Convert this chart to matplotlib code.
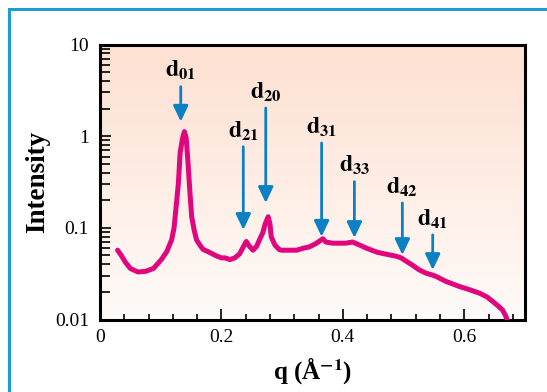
import numpy as np
import matplotlib
matplotlib.use("Agg")
import matplotlib.pyplot as plt
from matplotlib.colors import LinearSegmentedColormap
from matplotlib.patches import Rectangle

plt.rcParams['font.family'] = ['Liberation Serif', 'DejaVu Serif']
plt.rcParams['mathtext.fontset'] = 'stix'

# scattering curve
q = [0.029, 0.035, 0.042, 0.050, 0.0625, 0.075, 0.088, 0.101, 0.110, 0.118,
     0.122, 0.126, 0.129, 0.132, 0.136, 0.139, 0.142, 0.145, 0.148, 0.151,
     0.155, 0.159, 0.165, 0.170, 0.178, 0.190, 0.200, 0.206, 0.214, 0.222,
     0.230, 0.236, 0.241, 0.246, 0.252, 0.258, 0.263, 0.268, 0.272, 0.277,
     0.280, 0.282, 0.288, 0.295, 0.299, 0.310, 0.324, 0.335, 0.345, 0.355,
     0.362, 0.367, 0.372, 0.383, 0.395, 0.405, 0.416, 0.425, 0.439, 0.457,
     0.475, 0.488, 0.496, 0.505, 0.515, 0.525, 0.537, 0.548, 0.554, 0.570,
     0.592, 0.610, 0.625, 0.638, 0.647, 0.656, 0.663, 0.668, 0.671]
intensity = [0.057, 0.050, 0.042, 0.036, 0.033, 0.0335, 0.036, 0.045, 0.055, 0.074,
             0.10, 0.187, 0.30, 0.66, 0.95, 1.12, 0.95, 0.51, 0.25, 0.132,
             0.095, 0.074, 0.064, 0.058, 0.055, 0.050, 0.047, 0.047, 0.045, 0.047,
             0.052, 0.062, 0.071, 0.063, 0.057, 0.063, 0.075, 0.088, 0.110, 0.132,
             0.110, 0.080, 0.065, 0.058, 0.057, 0.057, 0.057, 0.060, 0.062, 0.067,
             0.072, 0.076, 0.070, 0.068, 0.068, 0.068, 0.070, 0.066, 0.060, 0.054,
             0.051, 0.049, 0.047, 0.043, 0.039, 0.035, 0.032, 0.0305, 0.0294, 0.026,
             0.0229, 0.021, 0.0194, 0.0175, 0.0157, 0.014, 0.0127, 0.011, 0.0098]

# peak markers: label, q position, arrow tail and tip
peak_labels = ['01', '21', '20', '31', '33', '42', '41']
peak_q = [0.133, 0.236, 0.273, 0.365, 0.419, 0.498, 0.548]
arrow_top = [3.47, 0.767, 2.03, 0.843, 0.319, 0.187, 0.0838]
arrow_tip = [1.44, 0.095, 0.187, 0.080, 0.0776, 0.0506, 0.0347]

line_color = '#e0067e'
arrow_color = '#0b80c4'

fig = plt.figure(figsize=(5.47, 3.92), dpi=100)
fig.patch.set_facecolor('white')
ax = fig.add_axes([100/547, 1-319.5/392, 425/547, 275/392])

# blue frame round the figure
fig.add_artist(Rectangle((8.5/547, -0.1), 1.2, 1.1 - 9.5/392, transform=fig.transFigure,
                         fill=False, edgecolor='#1c9ccf', lw=2.2))

# pink to white gradient behind the plot
grad = LinearSegmentedColormap.from_list('bg', ['#fffbf9', '#fde0d1'])
ax.imshow(np.linspace(0, 1, 256).reshape(-1, 1), cmap=grad, origin='lower',
          extent=[0, 1, 0, 1], transform=ax.transAxes, aspect='auto', zorder=0)

ax.plot(q, intensity, color=line_color, lw=3.6, solid_capstyle='round', zorder=3)

for lab, x, y0, y1 in zip(peak_labels, peak_q, arrow_top, arrow_tip):
    ax.annotate('', xy=(x, y1), xytext=(x, y0),
                arrowprops=dict(arrowstyle='-|>,head_length=0.95,head_width=0.45',
                                mutation_scale=10, color=arrow_color, lw=2,
                                shrinkA=0, shrinkB=0), zorder=4)
    ax.annotate(r'$\mathbf{d}_{\mathbf{%s}}$' % lab, xy=(x, y0), xytext=(0, 3),
                textcoords='offset points', ha='center', va='bottom',
                fontsize=17, zorder=5)

ax.set_yscale('log')
ax.set_xlim(0, 0.7)
ax.set_ylim(0.01, 10)
ax.set_xticks([0, 0.2, 0.4, 0.6])
ax.set_xticklabels(['0', '0.2', '0.4', '0.6'])
ax.set_xticks(np.arange(0.04, 0.7, 0.04), minor=True)
ax.set_yticks([0.01, 0.1, 1, 10])
ax.set_yticklabels(['0.01', '0.1', '1', '10'])

ax.tick_params(which='both', direction='in', top=False, right=False,
               labelsize=14, width=1.2, colors='black')
ax.tick_params(axis='x', which='major', length=8, pad=7)
ax.tick_params(axis='x', which='minor', length=4.5)
ax.tick_params(axis='y', which='major', length=8, pad=8)
ax.tick_params(axis='y', which='minor', length=7)

for s in ax.spines.values():
    s.set_linewidth(2.2)

ax.set_xlabel(r'q (Å$^{\mathbf{-1}}$)', fontsize=18, fontweight='bold')
ax.set_ylabel('Intensity', fontsize=19.5, fontweight='bold')
ax.xaxis.set_label_coords(0.5, -0.13)
ax.yaxis.set_label_coords(-0.118, 0.5)

fig.savefig('out.png', dpi=100)
